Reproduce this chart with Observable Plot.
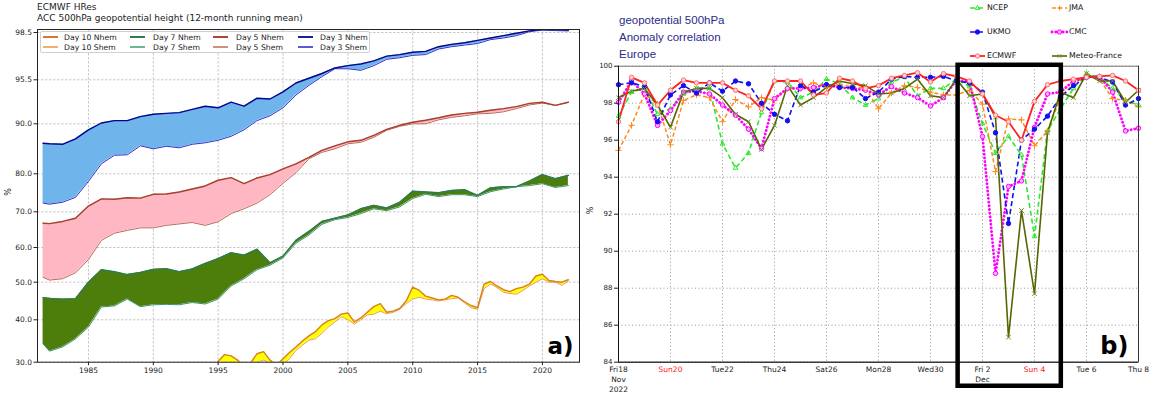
<!DOCTYPE html>
<html>
<head>
<meta charset="utf-8">
<script src="https://cdn.jsdelivr.net/npm/d3@7"></script>
<script src="https://cdn.jsdelivr.net/npm/@observablehq/plot@0.6"></script>
<style>
  html, body { margin:0; padding:0; background:#fff; }
  #page { position:relative; width:1157px; height:398px; overflow:hidden; font-family:"DejaVu Sans", sans-serif; }
  #left { position:absolute; left:0; top:0; }
  #right { position:absolute; left:583px; top:0; }
  .abs { position:absolute; white-space:nowrap; line-height:1; }
  .ltitle { font-size:9px; color:#222; left:37px; }
  .rtitle { font-family:"Liberation Sans", sans-serif; font-size:11.5px; color:#2a2a8a; left:619px; }
  #llegend { position:absolute; left:40px; top:31px; width:330px; height:22px; border:1px solid #d0d0d0; border-radius:2px; background:#fff; box-sizing:border-box; }
  .li { position:absolute; display:flex; align-items:center; font-size:7.7px; color:#222; height:10px; }
  .li span.sw { display:inline-block; width:15px; height:2px; }
  .ri { position:absolute; display:flex; align-items:center; font-size:7.8px; color:#111; height:10px; }
  .ri svg { overflow:visible; }
</style>
</head>
<body>
<div id="page">
  <div id="left"></div>
  <div id="right"></div>
  <div class="abs ltitle" style="top:3px">ECMWF HRes</div>
  <div class="abs ltitle" style="top:14px">ACC 500hPa geopotential height (12-month running mean)</div>
  <div id="llegend"></div>
  <div class="abs rtitle" style="top:15px">geopotential 500hPa</div>
  <div class="abs rtitle" style="top:32px">Anomaly correlation</div>
  <div class="abs rtitle" style="top:49px">Europe</div>
  <div id="rlegend"></div>
</div>
<script>
// ---------------- Panel a) data: ACC 500hPa, 12-month running mean ----------------
const years = [1981.5,1982,1983,1984,1985,1986,1987,1988,1989,1990,1991,1992,1993,1994,1995,1996,1997,1998,1999,2000,2001,2002,2003,2004,2005,2006,2007,2008,2009,2010,2011,2012,2013,2014,2015,2016,2017,2018,2019,2020,2021,2022];
const day3Nhem = [86.1,86.0,85.9,87.0,88.8,90.1,90.4,90.4,90.9,91.2,91.3,91.4,91.8,92.2,92.0,92.7,92.2,93.2,93.1,94.0,95.1,95.6,95.9,96.25,96.4,96.5,96.7,97.0,97.1,97.25,97.3,97.6,97.75,97.85,98.0,98.15,98.3,98.45,98.6,98.7,98.68,98.65];
const day3Shem = [72.3,72.0,72.5,73.8,78.0,82.0,83.7,83.8,85.6,85.0,85.5,85.2,85.9,86.2,86.7,87.5,88.8,90.4,91.0,92.0,93.6,94.8,95.7,96.2,96.2,96.1,96.4,96.8,96.9,97.05,97.1,97.45,97.6,97.7,97.8,98.05,98.15,98.3,98.55,98.65,98.62,98.6];
const day5Nhem = [66.8,66.7,67.3,68.2,71.5,73.4,73.3,73.7,73.6,74.6,74.7,75.2,76.0,76.8,78.3,79.0,77.4,78.9,79.8,81.0,82.0,83.3,84.7,85.6,86.4,86.7,87.7,88.9,89.7,90.2,90.45,90.75,91.1,91.3,91.45,91.7,91.9,92.15,92.55,92.7,92.3,92.7];
const day5Shem = [51.4,50.6,51.0,52.7,56.5,62.0,64.0,64.8,65.5,65.5,66.2,66.6,67.0,66.2,67.2,69.5,70.8,72.3,74.5,77.5,80.2,83.0,84.3,85.0,86.0,86.3,87.3,88.7,89.5,90.0,90.0,90.5,90.8,91.0,91.25,91.3,91.5,91.9,92.35,92.6,92.3,92.7];
const day7Nhem = [45.9,45.7,45.5,45.6,50.0,53.6,53.0,52.2,52.8,53.7,53.9,53.0,53.8,55.4,56.8,58.5,57.8,59.5,55.6,57.5,62.0,64.5,67.3,68.2,69.1,70.8,71.7,71.0,72.5,75.4,75.2,75.0,75.6,75.8,74.3,76.3,76.6,76.6,78.1,79.8,78.7,79.6];
const day7Shem = [34.3,32.6,33.6,35.5,38.3,43.4,43.7,45.5,43.5,44.0,44.1,44.0,44.6,44.2,45.5,49.0,51.0,53.6,54.9,57.0,61.2,63.5,66.5,67.8,68.4,69.5,70.8,70.3,71.3,73.5,74.6,74.0,74.5,74.5,74.0,75.3,76.0,76.6,76.9,77.4,76.4,76.9];
const years10 = [1994.5,1995,1995.5,1996,1996.5,1997,1997.5,1998,1998.5,1999,1999.5,2000,2000.5,2001,2001.5,2002,2002.5,2003,2003.5,2004,2004.5,2005,2005.5,2006,2006.5,2007,2007.5,2008,2008.5,2009,2009.5,2010,2010.5,2011,2011.5,2012,2012.5,2013,2013.5,2014,2014.5,2015,2015.5,2016,2016.5,2017,2017.5,2018,2018.5,2019,2019.5,2020,2020.5,2021,2021.5,2022];
const day10Nhem = [28,30.2,31.8,31.5,30.5,29.0,29.8,32.0,32.5,30.5,29.3,30.8,32.3,33.6,35.0,36.2,37.2,38.8,39.8,40.3,41.5,41.8,39.5,40.5,42.0,43.5,44.3,42.0,42.3,43.0,45.0,48.7,47.8,46.3,45.8,45.3,45.5,46.5,46.0,44.8,43.8,43.2,49.5,50.2,49.0,48.0,47.5,48.3,48.7,49.5,51.8,52.3,50.5,50.2,50.0,50.7];
const day10Shem = [27,29.0,30.0,29.8,29.0,28.5,29.0,30.0,30.5,29.8,29.0,29.5,30.8,32.8,34.0,35.2,35.5,36.8,38.3,39.5,40.8,40.0,39.0,40.0,41.3,41.5,42.3,41.6,42.0,42.8,44.3,45.5,46.0,45.5,45.3,45.0,45.3,45.6,45.8,44.5,43.2,42.8,48.3,49.5,48.6,47.3,47.0,46.8,47.8,49.0,50.0,51.0,50.0,50.0,49.2,50.3];
const leftYTicks = [30, 40, 50, 60, 70, 80, 90, 95.5, 98.5];
const leftXTicks = [1985, 1990, 1995, 2000, 2005, 2010, 2015, 2020];
const leftLegendRow1 = ["Day 10 Nhem", "Day 7 Nhem", "Day 5 Nhem", "Day 3 Nhem"];
const leftLegendRow2 = ["Day 10 Shem", "Day 7 Shem", "Day 5 Shem", "Day 3 Shem"];

// ---------------- Panel b) data: Europe, 500hPa anomaly correlation, every 12 h from 18 Nov 2022 ----------------
const startTime = "2022-11-18T00:00:00Z";
const endTime = "2022-12-08T00:00:00Z";
const ncep  = [97.3,98.6,98.8,97.4,97.7,98.5,98.8,98.8,95.8,94.5,95.3,97.5,99.2,99.15,98.3,98.6,99.3,99.05,98.3,97.9,98.25,99.15,99.4,98.4,98.8,98.8,99.3,98.9,96.9,95.3,96.2,95.2,90.8,96.5,97.7,98.8,99.6,99.4,98.8,98.15,97.9];
const jma   = [95.45,96.8,98.5,97.95,95.75,98.15,98.45,98.3,97.0,98.2,97.8,98.3,98.15,98.8,98.8,99.1,98.85,99.0,98.9,98.8,97.7,98.55,98.95,98.85,98.6,98.45,98.45,98.7,97.95,94.3,97.15,97.1,95.7,96.5,98.3,99.05,99.5,99.3,98.25,98.15,97.8];
const ukmo  = [99.0,99.1,98.9,97.0,98.45,98.95,98.55,99.1,98.65,99.2,99.05,98.0,97.4,97.05,98.95,98.6,99.0,98.85,98.85,98.25,98.6,99.3,99.45,99.4,99.4,99.45,99.2,99.1,98.6,96.4,91.5,96.0,96.6,97.3,98.35,98.95,99.4,99.4,99.15,97.9,98.25];
const cmc   = [98.05,99.2,98.5,96.8,97.6,98.6,98.65,98.5,97.9,97.35,96.6,95.55,98.25,98.8,98.8,98.85,99.0,98.85,98.8,98.7,98.45,98.9,98.55,98.3,97.85,98.3,99.25,99.15,96.2,88.8,93.5,93.8,96.7,98.5,98.6,99.2,99.4,99.45,98.6,96.5,96.65];
const ecmwf = [97.0,99.4,99.1,97.9,98.7,99.25,99.1,99.1,99.1,98.7,98.4,97.7,99.2,99.2,99.2,98.45,98.55,99.35,99.2,98.8,98.95,99.35,99.5,99.65,99.15,99.6,99.45,99.2,98.5,97.35,97.0,96.0,98.1,99.0,99.2,99.3,99.4,99.45,99.5,99.2,98.7];
const meteoFrance = [98.3,98.65,98.8,97.9,96.7,98.6,98.8,98.8,98.3,97.4,97.0,95.5,96.8,98.95,97.9,98.3,98.85,99.2,99.05,98.95,98.5,98.55,98.8,99.3,98.4,98.3,99.3,98.4,98.5,97.25,85.35,92.2,87.7,96.4,98.6,98.3,99.6,99.2,99.2,98.05,98.7];
const rightYTicks = [84, 86, 88, 90, 92, 94, 96, 98, 100];
const rightTickDates = ["2022-11-18","2022-11-20","2022-11-22","2022-11-24","2022-11-26","2022-11-28","2022-11-30","2022-12-02","2022-12-04","2022-12-06","2022-12-08"];
const rightTickLabels = ["Fri18\nNov\n2022","Sun20","Tue22","Thu24","Sat26","Mon28","Wed30","Fri 2\nDec","Sun 4","Tue 6","Thu 8"];
const rightTickIsSunday = [false,true,false,false,false,false,false,false,true,false,false];
const boxStart = "2022-12-01T01:30:00Z";
const boxEnd = "2022-12-05T00:45:00Z";
const boxLow = 82.7, boxHigh = 100.05;

// ---------------- Panel a) ----------------
const rowsFor = (ys, nh, sh) => ys.map((year, i) => ({year, nh: nh[i], sh: sh[i]}));
const bands = [
  {rows: rowsFor(years, day3Nhem, day3Shem), fill: "#6fb5eb", nh: "#06068c", sh: "#3030c8"},
  {rows: rowsFor(years, day5Nhem, day5Shem), fill: "#ffb7c3", nh: "#a4402c", sh: "#b86a5a"},
  {rows: rowsFor(years, day7Nhem, day7Shem), fill: "#4d7d0a", nh: "#2e7d52", sh: "#3c9468"},
  {rows: rowsFor(years10, day10Nhem, day10Shem), fill: "#ffff00", nh: "#d97f2a", sh: "#e6a050"}
];
const legendColors = {
  "Day 10 Nhem": "#d9782b", "Day 10 Shem": "#f0b070",
  "Day 7 Nhem": "#2e7d4f", "Day 7 Shem": "#6cb895",
  "Day 5 Nhem": "#a8443a", "Day 5 Shem": "#d09080",
  "Day 3 Nhem": "#1c1ca0", "Day 3 Shem": "#5a5ad8"
};

const leftPlot = Plot.plot({
  width: 583, height: 398,
  marginLeft: 37, marginRight: 4, marginTop: 29, marginBottom: 36.3,
  style: {fontFamily: "DejaVu Sans", fontSize: "7.5px", background: "transparent", color: "#222"},
  x: {domain: [1981.07, 2022.86], label: null},
  y: {type: "linear", domain: [30, 40, 50, 60, 70, 80, 90, 95.5, 98.5, 98.7],
      range: [361.7, 319.3, 281.7, 247, 211.3, 173.3, 123.3, 79.3, 32, 28.8], label: null},
  marks: [
    Plot.gridX(leftXTicks, {stroke: "#c8c8c8", strokeOpacity: 1, strokeDasharray: "2.5,1.5"}),
    Plot.gridY(leftYTicks, {stroke: "#c8c8c8", strokeOpacity: 1, strokeDasharray: "2.5,1.5"}),
    ...bands.flatMap(b => [
      Plot.areaY(b.rows, {x: "year", y1: "sh", y2: "nh", fill: b.fill, clip: true}),
      Plot.lineY(b.rows, {x: "year", y: "sh", stroke: b.sh, strokeWidth: 1, clip: true}),
      Plot.lineY(b.rows, {x: "year", y: "nh", stroke: b.nh, strokeWidth: 1.4, clip: true})
    ]),
    Plot.frame({stroke: "#222"}),
    Plot.axisY({ticks: leftYTicks, tickFormat: d => d.toFixed(1), tickSize: 3.5, tickPadding: 2, label: null}),
    Plot.axisX({ticks: leftXTicks, tickFormat: d => String(d), tickSize: 3.5, tickPadding: 2, label: null}),
    Plot.text(["%"], {frameAnchor: "left", dx: -29, rotate: -90, fontSize: 8}),
    Plot.text(["a)"], {frameAnchor: "bottom-right", dx: -6, dy: -8, textAnchor: "end", lineAnchor: "bottom", fontSize: 23, fontWeight: "bold", fill: "#000"})
  ]
});
document.getElementById("left").appendChild(leftPlot);

// left legend
const legEl = document.getElementById("llegend");
const legCols = [43, 130, 213, 298];
const legText = [64, 153, 236, 320];
[leftLegendRow1, leftLegendRow2].forEach((row, r) => {
  row.forEach((name, c) => {
    const d = document.createElement("div");
    d.className = "li";
    d.style.left = (legCols[c] - 41) + "px";
    d.style.top = (r === 0 ? 0 : 10) + "px";
    const sw = document.createElement("span");
    sw.className = "sw";
    sw.style.background = legendColors[name];
    sw.style.marginRight = (legText[c] - legCols[c] - 15) + "px";
    d.appendChild(sw);
    d.appendChild(document.createTextNode(name));
    legEl.appendChild(d);
  });
});

// ---------------- Panel b) ----------------
const t0 = new Date(startTime).getTime();
const halfDay = 12 * 3600 * 1000;
const rowsOf = vals => vals.map((v, i) => ({t: new Date(t0 + i * halfDay), v}));
const series = [
  {name: "NCEP", values: ncep, color: "#2ee82e", width: 1.6, dash: "5,3", cap: "butt", symbol: "triangle2", mStroke: "#2ee82e", mFill: "none"},
  {name: "JMA", values: jma, color: "#ff8a1c", width: 1.5, dash: "4,2.5", cap: "butt", symbol: "plus", mStroke: "#ff8a1c", mFill: "none"},
  {name: "CMC", values: cmc, color: "#ff00ff", width: 2.8, dash: "0.1,3.6", cap: "round", symbol: "circle", mStroke: "#ff00ff", mFill: "#ffb0ff"},
  {name: "UKMO", values: ukmo, color: "#1010f0", width: 1.6, dash: "5,3", cap: "butt", symbol: "circle", mStroke: "#1010f0", mFill: "#1010f0"},
  {name: "Meteo-France", values: meteoFrance, color: "#566600", width: 1.6, dash: null, cap: "butt", symbol: "times", mStroke: "#7a8a30", mFill: "none"},
  {name: "ECMWF", values: ecmwf, color: "#ff2222", width: 1.8, dash: null, cap: "butt", symbol: "circle", mStroke: "#ff7070", mFill: "#ffd0d0"}
];
const tickRows = rightTickDates.map((d, i) => ({t: new Date(d + "T00:00:00Z"), label: rightTickLabels[i], color: rightTickIsSunday[i] ? "#ff2020" : "#222"}));
const boxRows = [{x1: new Date(boxStart), x2: new Date(boxEnd), y1: boxLow, y2: boxHigh}];

const rightPlot = Plot.plot({
  width: 574, height: 398,
  marginLeft: 35, marginRight: 19, marginTop: 65.7, marginBottom: 36.3,
  style: {fontFamily: "DejaVu Sans", fontSize: "7.5px", background: "transparent", color: "#222", overflow: "visible"},
  x: {type: "utc", domain: [new Date(startTime), new Date(endTime)], axis: null},
  y: {domain: [84, 100], label: null},
  marks: [
    Plot.gridX(tickRows.map(d => d.t), {stroke: "#999", strokeOpacity: 1, strokeDasharray: "1,2.5"}),
    Plot.gridY(rightYTicks, {stroke: "#999", strokeOpacity: 1, strokeDasharray: "1,2.5"}),
    ...series.map(s => Plot.line(rowsOf(s.values), {x: "t", y: "v", stroke: s.color, strokeWidth: s.width, strokeDasharray: s.dash, strokeLinecap: s.cap})),
    ...series.map(s => Plot.dot(rowsOf(s.values), {x: "t", y: "v", symbol: s.symbol, r: 2.2, stroke: s.mStroke, fill: s.mFill, strokeWidth: 1})),
    Plot.frame({stroke: "#777"}),
    Plot.ruleX([new Date(startTime)], {stroke: "#111"}),
    Plot.ruleX([new Date(endTime)], {stroke: "#333"}),
    Plot.ruleY([84], {stroke: "#111"}),
    Plot.rect(boxRows, {x1: "x1", x2: "x2", y1: "y1", y2: "y2", stroke: "#000", strokeWidth: 4.5, fill: "none"}),
    Plot.axisY({ticks: rightYTicks, tickSize: 4, tickPadding: 2, label: null, fontSize: 7}),
    Plot.text(tickRows, {x: "t", text: "label", fill: "color", frameAnchor: "bottom", lineAnchor: "top", dy: 3, lineHeight: 1.3}),
    Plot.text(["%"], {frameAnchor: "left", dx: -28, rotate: -90, fontSize: 8}),
    Plot.text(["b)"], {frameAnchor: "bottom-right", dx: -10, dy: -8, textAnchor: "end", lineAnchor: "bottom", fontSize: 24, fontWeight: "bold", fill: "#000"})
  ]
});
document.getElementById("right").appendChild(rightPlot);

// right legend
const rleg = document.getElementById("rlegend");
const rlegPos = {
  "NCEP": [970, 7.5], "JMA": [1052, 7.5],
  "UKMO": [970, 31.5], "CMC": [1052, 31.5],
  "ECMWF": [970, 55.5], "Meteo-France": [1052, 55.5]
};
const symPath = {
  "triangle2": "M0,-2.6L2.3,1.4L-2.3,1.4Z",
  "plus": "M-2.3,0H2.3M0,-2.3V2.3",
  "times": "M-1.8,-1.8L1.8,1.8M1.8,-1.8L-1.8,1.8",
  "circle": "M2.2,0A2.2,2.2,0,1,1,-2.2,0A2.2,2.2,0,1,1,2.2,0"
};
series.forEach(s => {
  const [x, y] = rlegPos[s.name];
  const d = document.createElement("div");
  d.className = "ri";
  d.style.left = x + "px";
  d.style.top = (y - 5) + "px";
  const ns = "http://www.w3.org/2000/svg";
  const svg = document.createElementNS(ns, "svg");
  svg.setAttribute("width", 15); svg.setAttribute("height", 10);
  svg.style.marginRight = "2px";
  const ln = document.createElementNS(ns, "line");
  ln.setAttribute("x1", 0); ln.setAttribute("x2", 15); ln.setAttribute("y1", 5); ln.setAttribute("y2", 5);
  ln.setAttribute("stroke", s.color); ln.setAttribute("stroke-width", s.width);
  if (s.dash) ln.setAttribute("stroke-dasharray", s.dash);
  ln.setAttribute("stroke-linecap", s.cap);
  svg.appendChild(ln);
  const p = document.createElementNS(ns, "path");
  p.setAttribute("d", symPath[s.symbol]);
  p.setAttribute("transform", "translate(7.5,5)");
  p.setAttribute("stroke", s.mStroke); p.setAttribute("fill", s.mFill); p.setAttribute("stroke-width", 1);
  svg.appendChild(p);
  d.appendChild(svg);
  d.appendChild(document.createTextNode(s.name));
  rleg.appendChild(d);
});
</script>
</body>
</html>
